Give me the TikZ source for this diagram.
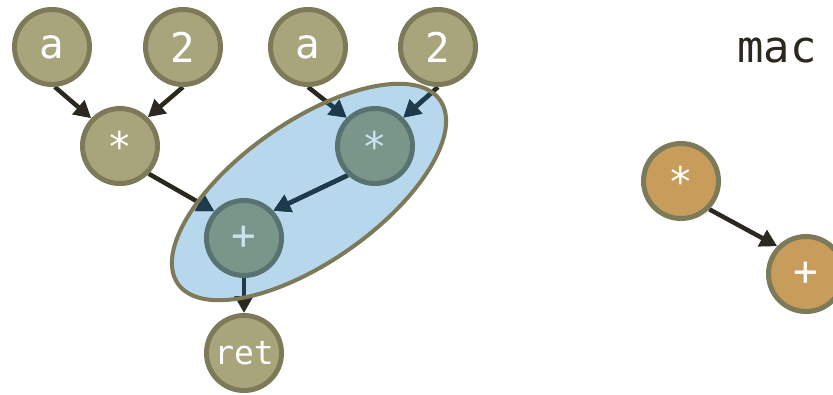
\documentclass[tikz,border=0pt]{standalone}
\usepackage{fontspec}
\setmonofont{DejaVu Sans Mono}
\usetikzlibrary{arrows.meta}

\definecolor{leaffill}{HTML}{A8A47B}
\definecolor{leafedge}{HTML}{7D7A5A}
\definecolor{selfill}{HTML}{7A968B}
\definecolor{seledge}{HTML}{587270}
\definecolor{seltext}{HTML}{C8E2F0}
\definecolor{selbg}{HTML}{B7D7EC}
\definecolor{macfill}{HTML}{C89D5C}
\definecolor{flowdark}{HTML}{2B2820}
\definecolor{flownavy}{HTML}{1D3B4C}

\pgfdeclarelayer{back}
\pgfsetlayers{back,main}

% all the edges, drawn twice (once dark, once clipped to the selection)
\newcommand\drawflows{%
	\draw[flow] (a1.-86) -- (m1.136);
	\draw[flow] (c1.-90) -- (m1.46);
	\draw[flow] (a2.-90) -- (m2.135);
	\draw[flow] (c2.-90) -- (m2.45);
	\draw[flow] (m1.-44) -- (p1.138);
	\draw[flow] (m2.-133) -- (p1.43);
	\draw[flow] (p1.-90) -- (ret.90);
	\draw[flow] (m3.-45) -- (p3.136);
}
\newcommand\selpath{[rotate around={35:(309,192)}] (309,192) ellipse [x radius=160bp, y radius=70bp]}

\begin{document}
\begin{tikzpicture}[x=1bp,y=-1bp,
	op/.style={circle,draw=leafedge,line width=5bp,minimum size=75bp,inner sep=0pt,fill=leaffill,text=white,font=\ttfamily\fontsize{41}{41}\selectfont},
	sel/.style={op,fill=selfill,draw=seledge,text=seltext},
	mac/.style={op,fill=macfill},
	flow/.style={line width=4.5bp,draw=flowdark,-{Triangle[length=17bp,width=18bp]}}]
	\useasboundingbox (0,0) rectangle (833,394);
	\path (52,47) node[op] (a1) {a}
		(183,47) node[op] (c1) {2}
		(308,47) node[op] (a2) {a}
		(438,47) node[op] (c2) {2}
		(120,146) node[op] (m1) {*}
		(375,146) node[sel] (m2) {*}
		(244,238) node[sel] (p1) {+}
		(244,353) node[op,font=\ttfamily\fontsize{33}{33}\selectfont] (ret) {ret};
	\path (681,181) node[mac] (m3) {*}
		(806,274) node[mac] (p3) {+};
	\node[text=flowdark,font=\ttfamily\fontsize{44}{44}\selectfont] (title) at (777,51) {mac};
	\begin{pgfonlayer}{back}
		\fill[selbg] \selpath;
		\drawflows
		\begin{scope}[flow/.append style={draw=flownavy}]
			\clip \selpath;
			\drawflows
		\end{scope}
		\draw[leafedge,line width=4bp] \selpath;
	\end{pgfonlayer}
\end{tikzpicture}
\end{document}
